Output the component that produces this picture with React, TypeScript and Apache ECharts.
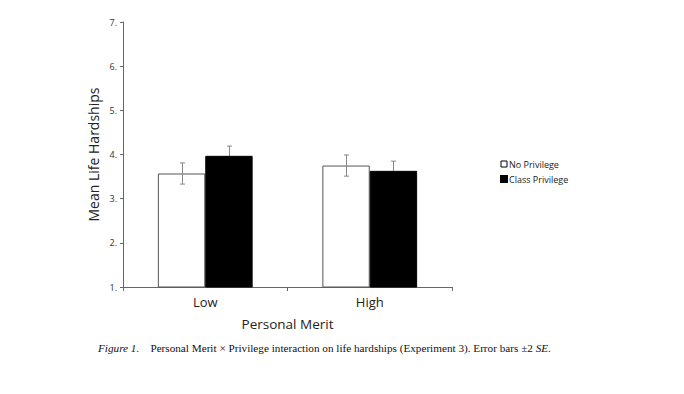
import React, { useEffect, useRef } from "react";
import * as echarts from "echarts";

const categories = ["Low", "High"];
const seriesNames = ["No Privilege", "Class Privilege"];
const noPrivilege = [3.57, 3.75];
const classPrivilege = [3.97, 3.63];
const noPrivilegeErr = [0.24, 0.24];
const classPrivilegeErr = [0.22, 0.22];
const yTicks = [1, 2, 3, 4, 5, 6, 7];

const BAR_FRAC = 0.288;

function errorSeries(values: number[], errs: number[], side: number, z: number) {
  return {
    type: "custom",
    z,
    silent: true,
    data: values.map((v, i) => [i, v, errs[i]]),
    renderItem: (params: any, api: any) => {
      const idx = api.value(0);
      const v = api.value(1);
      const e = api.value(2);
      const catW = api.size([1, 0])[0];
      const off = (side * catW * BAR_FRAC) / 2;
      const top = api.coord([idx, v + e]);
      const bot = api.coord([idx, v - e]);
      const x = Math.round(top[0] + off) + 0.5;
      const cap = 2.5;
      const style = { stroke: "#888", lineWidth: 1 };
      return {
        type: "group",
        children: [
          { type: "line", shape: { x1: x, y1: top[1], x2: x, y2: bot[1] }, style },
          { type: "line", shape: { x1: x - cap, y1: top[1], x2: x + cap, y2: top[1] }, style },
          { type: "line", shape: { x1: x - cap, y1: bot[1], x2: x + cap, y2: bot[1] }, style },
        ],
      };
    },
  };
}

export default function App() {
  const ref = useRef<HTMLDivElement>(null);
  useEffect(() => {
    if (!ref.current) return;
    const chart = echarts.init(ref.current, null, { renderer: "svg" });
    const font = "'Open Sans', sans-serif";
    chart.setOption({
      animation: false,
      backgroundColor: "#fff",
      grid: { left: 123, top: 22, right: 232, bottom: 107, containLabel: false },
      legend: {
        orient: "vertical",
        left: 500,
        top: 158,
        padding: 0,
        itemWidth: 6,
        itemHeight: 6,
        itemGap: 3,
        icon: "rect",
        textStyle: { fontFamily: font, fontSize: 9, color: "#222", padding: [0, 0, 0, -3], lineHeight: 12 },
        data: [
          { name: seriesNames[0], itemStyle: { color: "#fff", borderColor: "#000", borderWidth: 1 } },
          { name: seriesNames[1], itemStyle: { color: "#000" } },
        ],
      },
      xAxis: {
        type: "category",
        data: categories,
        name: "Personal Merit",
        nameLocation: "middle",
        nameGap: 30,
        nameTextStyle: { fontFamily: font, fontSize: 13.5, color: "#222" },
        axisLine: { lineStyle: { color: "#666", width: 1 } },
        axisTick: { show: true, length: 4, lineStyle: { color: "#666" } },
        axisLabel: { fontFamily: font, fontSize: 13, color: "#222", margin: 8 },
      },
      yAxis: {
        type: "value",
        min: 1,
        max: 7,
        interval: 1,
        name: "Mean Life Hardships",
        nameLocation: "middle",
        nameGap: 23,
        nameTextStyle: { fontFamily: font, fontSize: 14, color: "#222" },
        axisLine: { show: true, lineStyle: { color: "#666", width: 1 } },
        axisTick: { show: true, length: 3, lineStyle: { color: "#666" } },
        splitLine: { show: false },
        axisLabel: {
          fontFamily: font,
          fontSize: 9,
          color: "#333",
          margin: 6,
          formatter: (v: number) => (yTicks.includes(v) ? v + "." : ""),
        },
      },
      series: [
        {
          name: seriesNames[0],
          type: "bar",
          data: noPrivilege,
          barWidth: BAR_FRAC * 100 + "%",
          barGap: "0%",
          z: 2,
          itemStyle: { color: "#fff", borderColor: "#555", borderWidth: 1 },
        },
        {
          name: seriesNames[1],
          type: "bar",
          data: classPrivilege,
          barWidth: BAR_FRAC * 100 + "%",
          barGap: "0%",
          z: 2,
          itemStyle: { color: "#000", borderColor: "#000", borderWidth: 1 },
        },
        errorSeries(noPrivilege, noPrivilegeErr, -1, 5),
        errorSeries(classPrivilege, classPrivilegeErr, 1, 1),
      ],
      graphic: [
        {
          type: "text",
          left: 98,
          top: 342,
          style: {
            text: "{i|Figure 1.}    Personal Merit \u00d7 Privilege interaction on life hardships (Experiment 3). Error bars \u00b12 {i|SE}.",
            fontFamily: "'Liberation Serif', serif",
            fontSize: 11.2,
            fill: "#111",
            rich: {
              i: { fontStyle: "italic", fontFamily: "'Liberation Serif', serif", fontSize: 11.2, fill: "#111" },
            },
          },
        },
      ],
    });
    return () => chart.dispose();
  }, []);
  return (
    <div
      ref={ref}
      style={{ width: 684, height: 394, position: "absolute", left: 0, top: 0 }}
    />
  );
}
